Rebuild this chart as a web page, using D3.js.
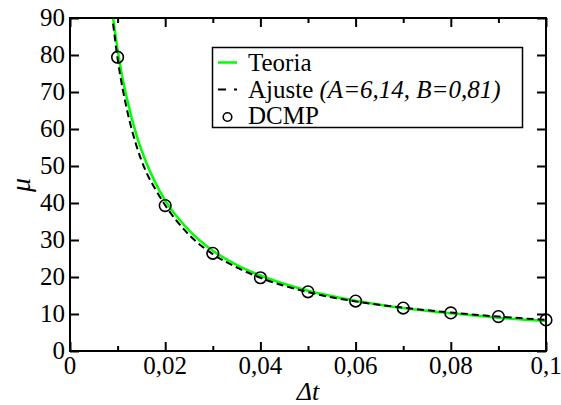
<!DOCTYPE html>
<html>
<head>
<meta charset="utf-8">
<script src="https://cdn.jsdelivr.net/npm/d3@7"></script>
<style>
  svg text, svg tspan { font-family: "Times New Roman", serif !important; }
</style>
</head>
<body>
<div id="chart"></div>
<script>
// values
const dtCurve = [0.00905, 0.01, 0.011, 0.012, 0.014, 0.016, 0.018, 0.02, 0.025, 0.03, 0.035, 0.04, 0.05, 0.06, 0.07, 0.08, 0.09, 0.1];
const teoria  = [90, 81.5, 74, 68, 58.2, 51, 45.3, 40.7, 32.6, 27.1, 23.3, 20.4, 16.3, 13.6, 11.6, 10.2, 9.0, 8.1];
const ajuste  = [88.5, 79, 71.3, 65, 55.3, 48.4, 43.6, 39.4, 31.4, 26.2, 22.6, 19.8, 15.9, 13.4, 11.7, 10.4, 9.3, 8.4];
const dtPoints = [0.01, 0.02, 0.03, 0.04, 0.05, 0.06, 0.07, 0.08, 0.09, 0.1];
const dcmp     = [79.4, 39.3, 26.4, 19.8, 16.0, 13.5, 11.6, 10.3, 9.3, 8.4];
const xTicks = [0, 0.02, 0.04, 0.06, 0.08, 0.1];
const xTickLabels = ["0", "0,02", "0,04", "0,06", "0,08", "0,1"];
const xMinor = [0.01, 0.03, 0.05, 0.07, 0.09];
const yTicks = [0, 10, 20, 30, 40, 50, 60, 70, 80, 90];

const width = 561, height = 405;
const plotLeft = 70, plotRight = 546, plotTop = 18, plotBottom = 351;
const serif = "Times New Roman";

const svg = d3.select("#chart").append("svg")
    .attr("width", width)
    .attr("height", height)
    .style("position", "absolute")
    .style("left", "0px")
    .style("top", "0px");

const x = d3.scaleLinear().domain([0, 0.1]).range([plotLeft, plotRight]);
const y = d3.scaleLinear().domain([0, 90]).range([plotBottom, plotTop]);

// curves
svg.append("clipPath").attr("id", "plot-clip")
  .append("rect")
    .attr("x", plotLeft).attr("y", plotTop)
    .attr("width", plotRight - plotLeft).attr("height", plotBottom - plotTop);

const line = d3.line()
    .x(d => x(d[0]))
    .y(d => y(d[1]))
    .curve(d3.curveMonotoneX);

const plot = svg.append("g").attr("clip-path", "url(#plot-clip)");

plot.append("path")
    .datum(dtCurve.map((d, i) => [d, teoria[i]]))
    .attr("d", line)
    .attr("fill", "none")
    .attr("stroke", "#00ff00")
    .attr("stroke-width", 2.5);

plot.append("path")
    .datum(dtCurve.map((d, i) => [d, ajuste[i]]))
    .attr("d", line)
    .attr("fill", "none")
    .attr("stroke", "#000")
    .attr("stroke-width", 2)
    .attr("stroke-dasharray", "7,4");

svg.selectAll("circle.pt")
    .data(dtPoints.map((d, i) => [d, dcmp[i]]))
    .enter()
    .append("circle")
    .attr("class", "pt")
    .attr("cx", d => x(d[0]))
    .attr("cy", d => y(d[1]))
    .attr("r", 5.8)
    .attr("fill", "none")
    .attr("stroke", "#000")
    .attr("stroke-width", 1.6);

// frame with inward ticks on all sides (tick marks only)
const axisOpts = (ax, len) => ax.tickSizeInner(-len).tickSizeOuter(0).tickFormat("");

svg.append("g").attr("transform", `translate(0,${plotBottom})`)
    .call(axisOpts(d3.axisBottom(x).tickValues(xTicks), 9));
svg.append("g").attr("transform", `translate(0,${plotBottom})`)
    .call(axisOpts(d3.axisBottom(x).tickValues(xMinor), 5));
svg.append("g").attr("transform", `translate(0,${plotTop})`)
    .call(axisOpts(d3.axisTop(x).tickValues(xTicks), 9));
svg.append("g").attr("transform", `translate(0,${plotTop})`)
    .call(axisOpts(d3.axisTop(x).tickValues(xMinor), 5));
svg.append("g").attr("transform", `translate(${plotLeft},0)`)
    .call(axisOpts(d3.axisLeft(y).tickValues(yTicks), 9));
svg.append("g").attr("transform", `translate(${plotRight},0)`)
    .call(axisOpts(d3.axisRight(y).tickValues(yTicks), 9));

svg.selectAll(".domain").remove();
svg.selectAll(".tick text").remove();
svg.selectAll("g").attr("font-family", null).attr("font-size", null);
svg.selectAll(".tick line").attr("stroke", "#000").attr("stroke-width", 2);

svg.append("rect")
    .attr("x", plotLeft).attr("y", plotTop)
    .attr("width", plotRight - plotLeft).attr("height", plotBottom - plotTop)
    .attr("fill", "none")
    .attr("stroke", "#000")
    .attr("stroke-width", 2);

// tick labels
svg.selectAll("text.xlab")
    .data(xTicks)
    .enter()
    .append("text")
    .attr("class", "xlab")
    .attr("font-family", serif)
    .attr("font-size", 25)
    .attr("text-anchor", "middle")
    .attr("x", d => x(d))
    .attr("y", plotBottom + 23)
    .text((d, i) => xTickLabels[i]);

svg.selectAll("text.ylab")
    .data(yTicks)
    .enter()
    .append("text")
    .attr("class", "ylab")
    .attr("font-family", serif)
    .attr("font-size", 25)
    .attr("text-anchor", "end")
    .attr("x", plotLeft - 5)
    .attr("y", d => y(d) + 8)
    .text(d => d);

// axis titles
svg.append("text")
    .attr("font-family", serif)
    .attr("font-size", 28)
    .attr("font-style", "italic")
    .attr("transform", "translate(30,185) rotate(-90)")
    .attr("text-anchor", "middle")
    .text("μ");

svg.append("text")
    .attr("font-family", serif)
    .attr("font-size", 26)
    .attr("font-style", "italic")
    .attr("x", (plotLeft + plotRight) / 2)
    .attr("y", 400)
    .attr("text-anchor", "middle")
    .text("Δt");

// legend
const legend = svg.append("g");
legend.append("rect")
    .attr("x", 212.5).attr("y", 47.5)
    .attr("width", 310).attr("height", 80)
    .attr("fill", "#fff")
    .attr("stroke", "#000")
    .attr("stroke-width", 1.5);

legend.append("line")
    .attr("x1", 218).attr("x2", 237).attr("y1", 62.5).attr("y2", 62.5)
    .attr("stroke", "#00ff00").attr("stroke-width", 2.5);
legend.append("line")
    .attr("x1", 218).attr("x2", 237).attr("y1", 89.5).attr("y2", 89.5)
    .attr("stroke", "#000").attr("stroke-width", 2)
    .attr("stroke-dasharray", "8,8");
legend.append("circle")
    .attr("cx", 227.5).attr("cy", 117)
    .attr("r", 4.3)
    .attr("fill", "none")
    .attr("stroke", "#000")
    .attr("stroke-width", 1.6);

legend.append("text")
    .attr("font-family", serif).attr("font-size", 25)
    .attr("x", 248).attr("y", 71).text("Teoria");
const aj = legend.append("text")
    .attr("font-family", serif).attr("font-size", 25)
    .attr("x", 248).attr("y", 97.5);
aj.append("tspan").text("Ajuste ");
aj.append("tspan").attr("font-style", "italic").text("(A=6,14, B=0,81)");
legend.append("text")
    .attr("font-family", serif).attr("font-size", 25)
    .attr("x", 248).attr("y", 124).text("DCMP");
</script>
</body>
</html>
